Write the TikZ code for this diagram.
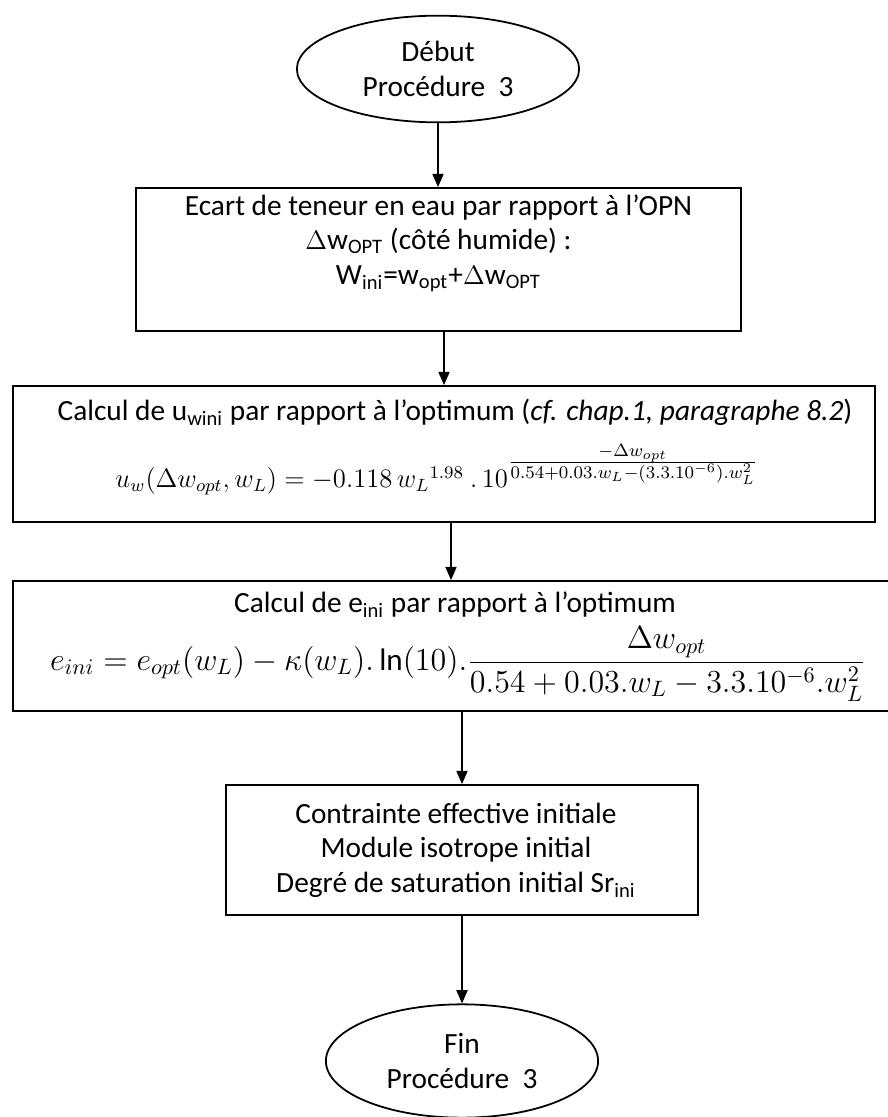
\documentclass[tikz,border=0pt]{standalone}
\usepackage{amsmath}
\usepackage{fontspec}
\setmainfont{Carlito}
\usetikzlibrary{arrows.meta,positioning,shapes.geometric,fit}

\tikzset{
  terminal/.style={draw,ellipse,line width=0.8pt,inner sep=0pt,minimum width=127pt,minimum height=48pt,align=center,font=\fontsize{13.2}{15.5}\selectfont},
  stepbox/.style={draw,line width=0.8pt,inner sep=0pt},
  txt/.style={align=center,inner sep=0pt,font=\fontsize{13.2}{15.5}\selectfont},
  arr/.style={-{Triangle[length=6pt,width=5pt]},line width=0.8pt}
}

\begin{document}
\begin{tikzpicture}[x=0.45pt,y=-0.45pt]
  \useasboundingbox (0,0) rectangle (887,1117);
  % start / end
  \node[terminal] (debut) at (438,69) {Début\\Procédure~~3};
  \node[terminal,minimum width=122.5pt,minimum height=51pt] (fin) at (462,1061) {Fin\\Procédure~~3};
  % boxes
  \node[stepbox,fit={(136,188) (741,331)}] (ecart) {};
  \node[stepbox,fit={(13,386) (875,522)}] (calcu) {};
  \node[stepbox,fit={(13,581) (889,711)}] (calce) {};
  \node[stepbox,fit={(226,785) (698,915)}] (contr) {};
  % texts
  \node[txt] (ecarttxt) at (438.5,243) {Ecart de teneur en eau par rapport à l’OPN\\
    $\Delta$w\textsubscript{OPT} (côté humide) :\\
    W\textsubscript{ini}=w\textsubscript{opt}+$\Delta$w\textsubscript{OPT}};
  \node[txt] (calcutxt) at (455,412) {Calcul de u\textsubscript{wini} par rapport à l’optimum (\textit{cf. chap.1, paragraphe 8.2})};
  \node[txt,font=\fontsize{12}{14}\selectfont] (calcueq) at (437,470) {$u_w(\Delta w_{opt},w_L)=-0.118\,{w_L}^{1.98}\ .\,10^{\frac{\scriptstyle-\Delta w_{opt}}{\scriptstyle0.54+0.03.w_L-(3.3.10^{-6}).w_L^2}}$};
  \node[txt] (calcetxt) at (455,605) {Calcul de e\textsubscript{ini} par rapport à l’optimum};
  \node[txt,font=\fontsize{14}{17}\selectfont] (calceeq) at (458,664) {$e_{ini}=e_{opt}(w_L)-\kappa(w_L).\ln(10).\dfrac{\Delta w_{opt}}{0.54+0.03.w_L-3.3.10^{-6}.w_L^2}$};
  \node[txt] (contrtxt) at (456,850) {Contrainte effective initiale\\Module isotrope initial\\Degré de saturation initial Sr\textsubscript{ini}};
  % arrows
  \draw[arr] (debut) -- (debut |- ecart.north);
  \draw[arr] (calcu.north |- ecart.south) -- (calcu.north);
  \draw[arr] (calce.north |- calcu.south) -- (calce.north);
  \draw[arr] (contr.north |- calce.south) -- (contr.north);
  \draw[arr] (contr.south) -- (fin);
\end{tikzpicture}
\end{document}
